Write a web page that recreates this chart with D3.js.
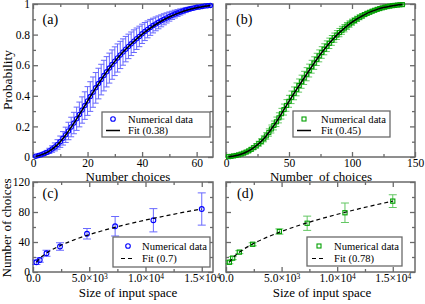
<!DOCTYPE html>
<html>
<head>
<meta charset="utf-8">
<script src="https://cdn.jsdelivr.net/npm/d3@7"></script>
<style>
body { margin: 0; background: #fff; }
svg text { font-family: "Liberation Serif", "Times New Roman", "DejaVu Serif", serif !important; fill: #000; }
</style>
</head>
<body>
<div id="chart"></div>
<script>
// ---- data ----
// (a) probability vs number of choices (x = 1..65)
var choicesA = d3.range(1, 66);
var probA = [0.005,0.01,0.015,0.022,0.03,0.04,0.052,0.066,0.082,0.10,
  0.122,0.145,0.17,0.196,0.222,0.25,0.278,0.307,0.336,0.366,
  0.395,0.424,0.452,0.48,0.506,0.532,0.557,0.581,0.604,0.626,
  0.647,0.667,0.686,0.705,0.723,0.74,0.757,0.773,0.788,0.805,
  0.82,0.834,0.847,0.859,0.87,0.88,0.89,0.90,0.909,0.918,
  0.926,0.934,0.941,0.948,0.954,0.96,0.965,0.97,0.974,0.978,
  0.981,0.984,0.987,0.989,0.991];
var errA = [0.004,0.006,0.008,0.01,0.013,0.017,0.021,0.026,0.031,0.037,
  0.044,0.05,0.057,0.064,0.07,0.076,0.081,0.086,0.09,0.094,
  0.097,0.099,0.1,0.1,0.1,0.1,0.099,0.098,0.096,0.094,
  0.092,0.089,0.086,0.083,0.08,0.077,0.074,0.07,0.067,0.063,
  0.059,0.055,0.052,0.048,0.045,0.042,0.039,0.036,0.033,0.03,
  0.027,0.025,0.022,0.02,0.018,0.016,0.014,0.012,0.011,0.009,
  0.008,0.007,0.006,0.005,0.004];
var fitAx = [1,3,6,9,12,15,18,21,24,27,30,33,36,39,42,45,48,51,54,57,60,63,65];
var fitAy = [0.004,0.014,0.039,0.081,0.144,0.221,0.306,0.394,0.478,0.556,0.625,0.686,
  0.739,0.787,0.829,0.866,0.897,0.923,0.945,0.962,0.975,0.985,0.99];

// (b) probability vs number of choices (x = 2..140, step 2)
var choicesB = d3.range(2, 141, 2);
var probB = [0.002,0.004,0.007,0.010,0.014,0.019,0.025,0.032,0.040,0.050,
  0.061,0.073,0.087,0.102,0.119,0.138,0.160,0.183,0.206,0.230,
  0.256,0.283,0.310,0.337,0.364,0.390,0.416,0.442,0.467,0.492,
  0.517,0.541,0.565,0.590,0.614,0.638,0.661,0.683,0.704,0.724,
  0.743,0.762,0.780,0.797,0.813,0.828,0.842,0.856,0.869,0.881,
  0.892,0.903,0.913,0.922,0.931,0.939,0.946,0.953,0.959,0.965,
  0.970,0.975,0.979,0.983,0.986,0.989,0.991,0.993,0.995,0.996];
var errB = [0.003,0.004,0.004,0.005,0.005,0.006,0.007,0.008,0.009,0.011,
  0.012,0.014,0.016,0.018,0.020,0.022,0.024,0.026,0.029,0.031,
  0.033,0.035,0.036,0.038,0.039,0.041,0.042,0.042,0.043,0.043,
  0.043,0.043,0.042,0.042,0.041,0.040,0.039,0.038,0.036,0.035,
  0.034,0.032,0.030,0.029,0.027,0.026,0.024,0.023,0.021,0.020,
  0.018,0.017,0.016,0.015,0.013,0.012,0.011,0.010,0.009,0.008,
  0.008,0.007,0.006,0.006,0.005,0.005,0.004,0.004,0.003,0.003];
var fitBx = [2,5,10,15,20,25,30,35,40,45,50,55,60,65,70,75,80,85,90,95,100,105,110,115,120,125,130,135,140];
var fitBy = [0.001,0.005,0.013,0.028,0.05,0.08,0.119,0.172,0.23,0.297,0.364,0.429,0.492,0.553,
  0.614,0.672,0.724,0.771,0.813,0.849,0.881,0.908,0.931,0.95,0.965,0.977,0.986,0.992,0.996];

// (c), (d) number of choices vs size of input space
var inputSize = [300, 600, 1200, 2400, 4800, 7300, 10700, 15000];
var choicesC = [13, 16, 25, 34, 51, 61, 69, 84];
var errC = [3, 3, 4, 5, 7, 13, 15.5, 21.5];
var choicesD = [13, 18.5, 26.5, 37, 54, 65, 79, 94.5];
var errD = [2, 2, 2, 2, 3.5, 9.5, 13, 8.5];
var fitSize = [300, 600, 1200, 2400, 3600, 4800, 6000, 7500, 9000, 10500, 12000, 13500, 15000];
var fitC = [13, 18.1, 25.2, 35.0, 42.5, 48.9, 54.3, 60.4, 65.8, 70.9, 75.5, 79.9, 84.0];
var fitD = [13, 18.5, 26.3, 37.3, 45.8, 53.0, 59.4, 66.5, 72.9, 78.8, 84.4, 89.6, 94.4];

// ticks
var probTicks = [0, 0.2, 0.4, 0.6, 0.8, 1];
var probMinor = [0.1, 0.3, 0.5, 0.7, 0.9];
var aTicks = [0, 20, 40, 60], aMinor = [10, 30, 50];
var bTicks = [0, 50, 100, 150], bMinor = [25, 75, 125];
var countTicks = [0, 40, 80, 120], countMinor = [20, 60, 100];
var sizeTicks = [0, 5000, 10000, 15000], sizeMinor = [2500, 7500, 12500];
var sizeLabels = [["0.0", ""], ["5.0\u00d710", "3"], ["1.0\u00d710", "4"], ["1.5\u00d710", "4"]];

var legendNames = ["Numerical data", "Fit (0.38)", "Fit (0.45)", "Fit (0.7)", "Fit (0.78)"];

// ---- drawing ----
var width = 425, height = 304;
var serif = "'Liberation Serif', 'Times New Roman', serif";
var frameCol = "#6a6a6a";
var blue = "#0000ff", green = "#00a000";

var svg = d3.select("#chart").append("svg")
  .attr("width", width)
  .attr("height", height)
  .attr("font-family", serif);

function makePanel(box, xDom, yDom, o) {
  var x = d3.scaleLinear().domain(xDom).range([box.x0, box.x1]);
  var y = d3.scaleLinear().domain(yDom).range([box.y1, box.y0]);
  var g = svg.append("g");

  function axis(gen, scale, vals, size, fmt, tr, pad) {
    var a = gen(scale).tickValues(vals).tickSize(-size).tickPadding(pad)
      .tickFormat(fmt ? fmt : function() { return ""; });
    var s = g.append("g").attr("transform", tr).call(a);
    s.select(".domain").remove();
    s.attr("font-family", serif).attr("font-size", 11.5);
    s.selectAll(".tick line").attr("stroke", frameCol).attr("stroke-width", 1.3);
    return s;
  }

  var bottom = axis(d3.axisBottom, x, o.xMajor, 5, o.xFmt, "translate(0," + box.y1 + ")", 2);
  axis(d3.axisBottom, x, o.xMinor, 3, null, "translate(0," + box.y1 + ")", 2);
  axis(d3.axisTop, x, o.xMajor, 5, null, "translate(0," + box.y0 + ")", 2);
  axis(d3.axisTop, x, o.xMinor, 3, null, "translate(0," + box.y0 + ")", 2);
  axis(d3.axisLeft, y, o.yMajor, 5, o.yFmt, "translate(" + box.x0 + ",0)", 3);
  axis(d3.axisLeft, y, o.yMinor, 3, null, "translate(" + box.x0 + ",0)", 3);
  axis(d3.axisRight, y, o.yMajor, 5, null, "translate(" + box.x1 + ",0)", 3);
  axis(d3.axisRight, y, o.yMinor, 3, null, "translate(" + box.x1 + ",0)", 3);

  g.append("rect")
    .attr("x", box.x0).attr("y", box.y0)
    .attr("width", box.x1 - box.x0).attr("height", box.y1 - box.y0)
    .attr("fill", "none").attr("stroke", frameCol).attr("stroke-width", 1.5);

  return { x: x, y: y, g: g, bottom: bottom };
}

function errorBars(p, xs, ys, es, color, cap) {
  var eg = p.g.append("g").attr("stroke", color).attr("stroke-width", 1).attr("opacity", 0.7);
  xs.forEach(function(xv, i) {
    var cx = p.x(xv), top = p.y(ys[i] + es[i]), bot = p.y(ys[i] - es[i]);
    eg.append("line").attr("x1", cx).attr("x2", cx).attr("y1", top).attr("y2", bot);
    eg.append("line").attr("x1", cx - cap / 2).attr("x2", cx + cap / 2).attr("y1", top).attr("y2", top);
    eg.append("line").attr("x1", cx - cap / 2).attr("x2", cx + cap / 2).attr("y1", bot).attr("y2", bot);
  });
}

function circles(p, xs, ys, color, r) {
  p.g.append("g").selectAll("circle")
    .data(xs).enter().append("circle")
    .attr("cx", function(d) { return p.x(d); })
    .attr("cy", function(d, i) { return p.y(ys[i]); })
    .attr("r", r).attr("fill", "none").attr("stroke", color).attr("stroke-width", 1.1);
}

function squares(p, xs, ys, color, s) {
  p.g.append("g").selectAll("rect")
    .data(xs).enter().append("rect")
    .attr("x", function(d) { return p.x(d) - s / 2; })
    .attr("y", function(d, i) { return p.y(ys[i]) - s / 2; })
    .attr("width", s).attr("height", s)
    .attr("fill", "none").attr("stroke", color).attr("stroke-width", 1.1);
}

function fitLine(p, xs, ys, dashed) {
  var line = d3.line()
    .x(function(d) { return p.x(d); })
    .y(function(d, i) { return p.y(ys[i]); })
    .curve(d3.curveMonotoneX);
  p.g.append("path").datum(xs)
    .attr("d", line)
    .attr("fill", "none").attr("stroke", "#000")
    .attr("stroke-width", dashed ? 1.2 : 1.5)
    .attr("stroke-dasharray", dashed ? "4,3" : null);
}

function legend(bx, marker, color, fitName, dashed) {
  var g = svg.append("g");
  g.append("rect").attr("x", bx.x).attr("y", bx.y).attr("width", bx.w).attr("height", bx.h)
    .attr("fill", "#fff").attr("stroke", frameCol).attr("stroke-width", 1.3);
  if (marker == "circle") {
    g.append("circle").attr("cx", bx.sx).attr("cy", bx.r1 - 4).attr("r", 2.3)
      .attr("fill", "none").attr("stroke", color).attr("stroke-width", 1.1);
  } else {
    g.append("rect").attr("x", bx.sx - 2).attr("y", bx.r1 - 6).attr("width", 4).attr("height", 4)
      .attr("fill", "none").attr("stroke", color).attr("stroke-width", 1.1);
  }
  g.append("line").attr("x1", bx.sx - 7).attr("x2", bx.sx + 7)
    .attr("y1", bx.r2 - 3.5).attr("y2", bx.r2 - 3.5)
    .attr("stroke", "#000").attr("stroke-width", dashed ? 1.2 : 1.5)
    .attr("stroke-dasharray", dashed ? "4,3" : null);
  g.append("text").attr("x", bx.tx).attr("y", bx.r1).attr("font-size", 10.6).text(legendNames[0]);
  g.append("text").attr("x", bx.tx).attr("y", bx.r2).attr("font-size", 10.6).text(fitName);
}

var probFmt = function(d) { return d == 0 ? "0" : d == 1 ? "1" : d3.format(".1f")(d); };

// (a)
var pa = makePanel({x0: 33, x1: 213, y0: 4, y1: 157}, [0, 66], [0, 1],
  {xMajor: aTicks, xMinor: aMinor, yMajor: probTicks, yMinor: probMinor,
   xFmt: d3.format("d"), yFmt: probFmt});
errorBars(pa, choicesA, probA, errA, "#2a2aff", 6);
circles(pa, choicesA, probA, blue, 2.2);
fitLine(pa, fitAx, fitAy, false);

// (b)
var pb = makePanel({x0: 226, x1: 415, y0: 4, y1: 157}, [0, 150], [0, 1],
  {xMajor: bTicks, xMinor: bMinor, yMajor: probTicks, yMinor: probMinor,
   xFmt: d3.format("d"), yFmt: null});
errorBars(pb, choicesB, probB, errB, "#22b022", 6);
squares(pb, choicesB, probB, green, 4);
fitLine(pb, fitBx, fitBy, false);

// (c)
function sizeFmt(sel) {
  sel.selectAll(".tick text").each(function(d, i) {
    var t = d3.select(this).text("");
    t.append("tspan").text(sizeLabels[i][0]);
    if (sizeLabels[i][1]) {
      t.append("tspan").attr("dy", "-0.45em").attr("font-size", 7.5).text(sizeLabels[i][1]);
    }
  });
}
var pc = makePanel({x0: 33, x1: 213, y0: 182, y1: 272}, [0, 16000], [0, 120],
  {xMajor: sizeTicks, xMinor: sizeMinor, yMajor: countTicks, yMinor: countMinor,
   xFmt: function() { return "x"; }, yFmt: d3.format("d")});
sizeFmt(pc.bottom);
errorBars(pc, inputSize, choicesC, errC, "#2a2aff", 8);
circles(pc, inputSize, choicesC, blue, 2.4);
fitLine(pc, fitSize, fitC, true);

// (d)
var pd = makePanel({x0: 226, x1: 415, y0: 182, y1: 272}, [0, 17000], [0, 120],
  {xMajor: sizeTicks, xMinor: sizeMinor, yMajor: countTicks, yMinor: countMinor,
   xFmt: function() { return "x"; }, yFmt: null});
sizeFmt(pd.bottom);
errorBars(pd, inputSize, choicesD, errD, "#22b022", 8);
squares(pd, inputSize, choicesD, green, 4.2);
fitLine(pd, fitSize, fitD, true);

// legends
legend({x: 102, y: 112, w: 108, h: 25, sx: 113, tx: 128, r1: 123, r2: 134}, "circle", blue, legendNames[1], false);
legend({x: 293, y: 111, w: 97, h: 26, sx: 304, tx: 321, r1: 123, r2: 134}, "square", green, legendNames[2], false);
legend({x: 113, y: 237, w: 97, h: 30, sx: 128, tx: 142, r1: 250, r2: 262}, "circle", blue, legendNames[3], true);
legend({x: 307, y: 237, w: 95, h: 29, sx: 319, tx: 334, r1: 250, r2: 262}, "square", green, legendNames[4], true);

// panel tags
[["(a)", 42.5, 23.5], ["(b)", 236, 23.5], ["(c)", 42.5, 198], ["(d)", 237, 198]].forEach(function(t) {
  svg.append("text").attr("x", t[1]).attr("y", t[2]).attr("font-size", 14).text(t[0]);
});

// axis titles
svg.append("text").attr("x", 128).attr("y", 181).attr("text-anchor", "middle")
  .attr("font-size", 13).text("Number choices");
svg.append("text").attr("x", 321).attr("y", 181).attr("text-anchor", "middle")
  .attr("font-size", 13).style("white-space", "pre").text("Number  of choices");
svg.append("text").attr("x", 128).attr("y", 297).attr("text-anchor", "middle")
  .attr("font-size", 13).text("Size of input space");
svg.append("text").attr("x", 322).attr("y", 297).attr("text-anchor", "middle")
  .attr("font-size", 13).text("Size of input space");
svg.append("text").attr("transform", "translate(11.5,80) rotate(-90)").attr("text-anchor", "middle")
  .attr("font-size", 13.5).text("Probability");
svg.append("text").attr("transform", "translate(10.5,228) rotate(-90)").attr("text-anchor", "middle")
  .attr("font-size", 13).text("Number of choices");
</script>
</body>
</html>
